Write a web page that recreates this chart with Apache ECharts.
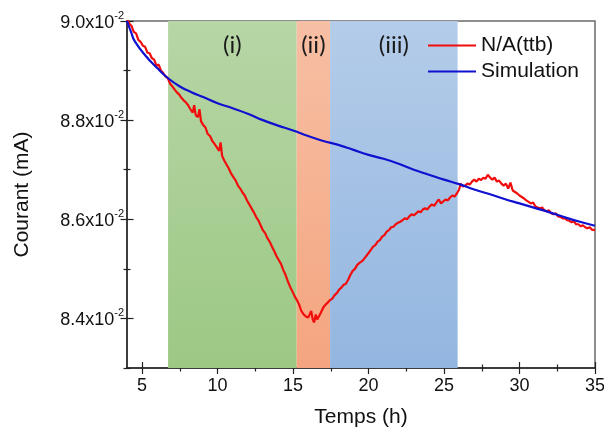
<!DOCTYPE html>
<html><head><meta charset="utf-8">
<script src="https://cdn.jsdelivr.net/npm/echarts@6/dist/echarts.min.js"></script>
<style>html,body{margin:0;padding:0;background:#fff}#c{width:604px;height:428px}</style>
</head><body><div id="c"></div>
<script>
// Time (h) and current (in units of 1e-2 mA)
const redT = [4.0,4.15,4.3,4.45,4.6,4.75,4.9,5.05,5.2,5.35,5.5,5.65,5.8,5.95,6.1,6.25,6.4,6.55,6.7,6.85,7.0,7.15,7.3,7.45,7.6,7.75,7.9,8.05,8.2,8.35,8.45,8.55,8.7,8.8,8.9,9.05,9.2,9.35,9.5,9.65,9.8,9.95,10.1,10.2,10.3,10.45,10.6,10.75,10.9,11.05,11.2,11.35,11.5,11.65,11.8,11.95,12.1,12.25,12.4,12.55,12.7,12.85,13.0,13.15,13.3,13.45,13.6,13.75,13.9,14.05,14.2,14.35,14.5,14.65,14.8,14.95,15.1,15.25,15.4,15.55,15.7,15.85,16.0,16.1,16.2,16.3,16.4,16.5,16.6,16.7,16.85,17.0,17.15,17.3,17.45,17.6,17.75,17.9,18.05,18.2,18.35,18.5,18.65,18.8,18.95,19.1,19.25,19.4,19.55,19.7,19.85,20.0,20.15,20.3,20.45,20.6,20.75,20.9,21.05,21.2,21.35,21.5,21.65,21.8,21.95,22.1,22.25,22.4,22.55,22.7,22.85,23.0,23.15,23.3,23.45,23.6,23.75,23.9,24.05,24.2,24.35,24.5,24.65,24.8,24.95,25.1,25.25,25.4,25.55,25.7,25.85,26.0,26.1,26.25,26.4,26.55,26.7,26.85,27.0,27.15,27.3,27.45,27.6,27.75,27.9,28.05,28.2,28.35,28.5,28.65,28.8,28.95,29.1,29.25,29.4,29.55,29.7,29.85,30.0,30.15,30.3,30.45,30.6,30.75,30.9,31.05,31.2,31.35,31.5,31.65,31.8,31.95,32.1,32.25,32.4,32.55,32.7,32.85,33.0,33.15,33.3,33.45,33.6,33.75,33.9,34.05,34.2,34.35,34.5,34.65,34.8,35.0];
const redV = [9.005,8.995,8.99,8.978,8.975,8.962,8.958,8.95,8.948,8.936,8.935,8.925,8.922,8.91,8.912,8.9,8.895,8.888,8.885,8.874,8.868,8.862,8.856,8.852,8.845,8.84,8.836,8.83,8.822,8.815,8.83,8.81,8.806,8.822,8.798,8.79,8.785,8.772,8.768,8.758,8.752,8.745,8.738,8.755,8.728,8.718,8.71,8.702,8.692,8.685,8.678,8.668,8.662,8.654,8.648,8.638,8.63,8.622,8.614,8.605,8.598,8.588,8.578,8.572,8.562,8.555,8.545,8.536,8.526,8.518,8.51,8.498,8.488,8.475,8.464,8.455,8.445,8.437,8.428,8.415,8.408,8.404,8.402,8.408,8.415,8.398,8.392,8.408,8.398,8.402,8.412,8.422,8.428,8.432,8.437,8.44,8.447,8.451,8.458,8.462,8.468,8.47,8.478,8.488,8.496,8.5,8.508,8.512,8.515,8.52,8.526,8.532,8.538,8.545,8.548,8.555,8.558,8.565,8.568,8.575,8.578,8.584,8.585,8.59,8.593,8.595,8.598,8.602,8.6,8.606,8.61,8.608,8.612,8.616,8.614,8.62,8.622,8.62,8.626,8.63,8.627,8.634,8.64,8.632,8.636,8.64,8.638,8.644,8.648,8.646,8.652,8.66,8.672,8.666,8.668,8.672,8.67,8.676,8.68,8.676,8.682,8.679,8.684,8.682,8.69,8.684,8.68,8.684,8.676,8.678,8.672,8.668,8.672,8.662,8.674,8.658,8.655,8.652,8.648,8.645,8.642,8.638,8.635,8.632,8.634,8.626,8.624,8.622,8.624,8.618,8.616,8.618,8.612,8.61,8.612,8.606,8.605,8.602,8.602,8.598,8.597,8.594,8.596,8.59,8.59,8.586,8.588,8.584,8.582,8.584,8.579,8.578];
const simT = [4.0,4.3,4.5,5.2,6.0,6.7,7.5,8.3,9.0,10.0,11.0,12.0,13.0,14.0,15.0,16.0,17.0,18.0,19.0,20.0,21.0,22.0,23.0,24.0,25.0,26.0,27.0,28.0,29.0,30.0,31.0,32.0,33.0,34.0,35.0];
const simV = [9.0,8.975,8.96,8.931,8.905,8.885,8.868,8.856,8.847,8.834,8.824,8.813,8.8,8.789,8.779,8.768,8.758,8.75,8.74,8.73,8.722,8.712,8.7,8.69,8.68,8.671,8.66,8.651,8.641,8.632,8.623,8.614,8.604,8.595,8.587];
const seriesNames = ['N/A(ttb)', 'Simulation'];
const bandLabels = ['(i)', '(ii)', '(iii)'];
const bandStart = [6.72, 15.24, 17.45];
const bandEnd = [15.24, 17.45, 25.9];
const xMajorTicks = [5, 10, 15, 20, 25, 30, 35];
const xMinorTicks = [7.5, 12.5, 17.5, 22.5, 27.5, 32.5];
const yMajorTicks = [8.4, 8.6, 8.8, 9.0];
const yMinorTicks = [8.3, 8.5, 8.7, 8.9];

const bandColors = [['#b7d6a6', '#9cc884'], ['#f7bfa4', '#f4a57f'], ['#b4cce9', '#93b6e0']];
const chart = echarts.init(document.getElementById('c'));
const FONT = 'Liberation Sans';

function xAxisDef(ticks, len, inside, withLabels) {
  return {
    type: 'value', min: 4, max: 35, position: 'bottom',
    axisLine: { show: withLabels, onZero: false, lineStyle: { color: '#222', width: 1.5 } },
    axisTick: { show: true, customValues: ticks, inside: inside, length: len, lineStyle: { color: '#222', width: 1.2 } },
    axisLabel: withLabels ? { customValues: xMajorTicks, fontFamily: FONT, fontSize: 18, color: '#111', margin: 9 } : { show: false },
    splitLine: { show: false },
    name: withLabels ? 'Temps (h)' : '', nameLocation: 'middle', nameGap: 39,
    nameTextStyle: { fontFamily: FONT, fontSize: 21, color: '#111' }
  };
}
function yAxisDef(ticks, len, inside, withLabels) {
  return {
    type: 'value', min: 8.3, max: 9.0, position: 'left',
    axisLine: { show: withLabels, onZero: false, lineStyle: { color: '#222', width: 1.5 } },
    axisTick: { show: true, customValues: ticks, inside: inside, length: len, lineStyle: { color: '#222', width: 1.2 } },
    axisLabel: withLabels ? {
      customValues: yMajorTicks, margin: 3,
      formatter: v => '{a|' + v.toFixed(1) + 'x10}{s|-2}',
      rich: {
        a: { fontFamily: FONT, fontSize: 18, color: '#111', lineHeight: 22, verticalAlign: 'bottom' },
        s: { fontFamily: FONT, fontSize: 11, color: '#111', lineHeight: 22, verticalAlign: 'top' }
      }
    } : { show: false },
    splitLine: { show: false },
    name: withLabels ? 'Courant (mA)' : '', nameLocation: 'middle', nameGap: 94,
    nameTextStyle: { fontFamily: FONT, fontSize: 21, color: '#111' }
  };
}

chart.setOption({
  animation: false,
  backgroundColor: '#fff',
  grid: { left: 127, top: 21, right: 9, bottom: 60, containLabel: false, outerBoundsMode: 'none',
    show: true, borderColor: '#6a6a6a', borderWidth: 1.5, backgroundColor: 'transparent' },
  legend: {
    data: seriesNames, orient: 'vertical', left: 428, top: 35, icon: 'rect',
    itemWidth: 48, itemHeight: 2, itemGap: 5, padding: 0,
    textStyle: { fontFamily: FONT, fontSize: 21, color: '#111' }
  },
  xAxis: [
    xAxisDef(xMajorTicks, 6, false, true),
    xAxisDef(xMajorTicks, 6, true, false),
    xAxisDef(xMinorTicks, 3.5, false, false),
    xAxisDef(xMinorTicks, 3.5, true, false)
  ],
  yAxis: [
    yAxisDef(yMajorTicks, 6.5, false, true),
    yAxisDef(yMajorTicks, 6.5, true, false),
    yAxisDef(yMinorTicks, 3.5, false, false),
    yAxisDef(yMinorTicks, 3.5, true, false)
  ],
  series: [
    {
      type: 'line', name: 'bands', data: [], z: 1, silent: true,
      markArea: {
        silent: true,
        data: bandLabels.map((lab, i) => [
          { xAxis: bandStart[i], yAxis: 9.0, name: lab,
            itemStyle: { color: new echarts.graphic.LinearGradient(0, 0, 0, 1, [{ offset: 0, color: bandColors[i][0] }, { offset: 1, color: bandColors[i][1] }]), opacity: 1 },
            label: { show: true, position: 'insideTop', distance: 12, formatter: lab, fontFamily: 'Lato', fontSize: 24, color: '#1a1a1a' } },
          { xAxis: bandEnd[i], yAxis: 8.3 }
        ])
      }
    },
    {
      type: 'line', name: seriesNames[0], data: redT.map((t, i) => [t, redV[i]]),
      symbol: 'none', z: 3, lineStyle: { color: '#f20d0d', width: 2.2 }, itemStyle: { color: '#f20d0d' }
    },
    {
      type: 'line', name: seriesNames[1], data: simT.map((t, i) => [t, simV[i]]),
      symbol: 'none', smooth: true, z: 4, lineStyle: { color: '#1010d0', width: 2.2 }, itemStyle: { color: '#1010d0' }
    }
  ]
});
</script></body></html>
